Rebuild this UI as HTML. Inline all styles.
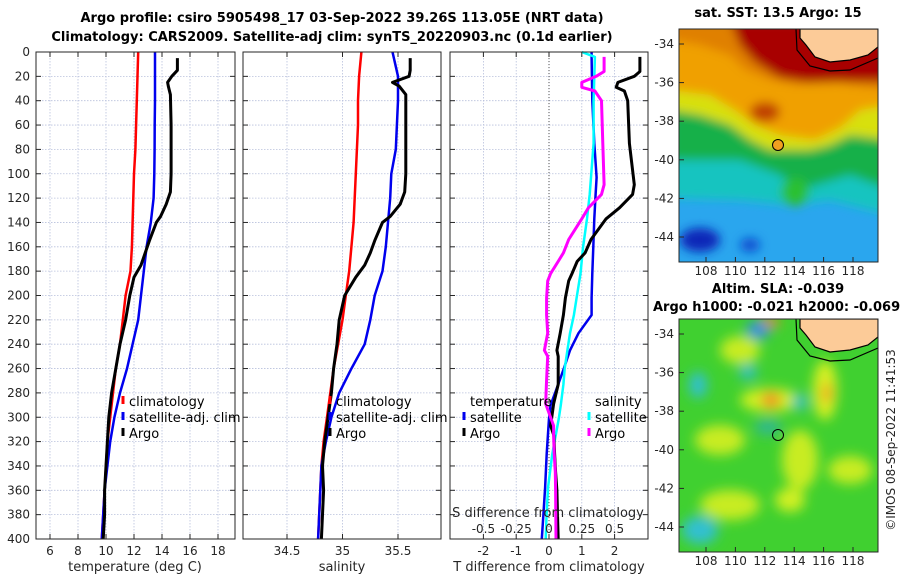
<!DOCTYPE html>
<html><head><meta charset="utf-8"><style>
body{margin:0;background:#fff;}
svg{display:block;font-family:"DejaVu Sans","Liberation Sans",sans-serif;}
.tk{font-size:12px;fill:#262626;}
.tt{font-size:13px;font-weight:bold;fill:#000;}
.lg{font-size:13px;fill:#000;}
</style></head><body>
<svg id="chart" width="900" height="580" viewBox="0 0 900 580">
<defs>
<filter id="blur1" x="-10%" y="-10%" width="120%" height="120%"><feGaussianBlur stdDeviation="5"/></filter>
<filter id="blur2" x="-10%" y="-10%" width="120%" height="120%"><feGaussianBlur stdDeviation="6"/></filter>
<clipPath id="cm1"><rect x="679" y="29" width="199" height="233"/></clipPath>
<clipPath id="cm2"><rect x="679" y="319" width="199" height="233"/></clipPath>
</defs>
<text class="tt" x="342" y="22" text-anchor="middle">Argo profile: csiro 5905498_17 03-Sep-2022 39.26S 113.05E (NRT data)</text>
<text class="tt" x="332" y="41" text-anchor="middle">Climatology: CARS2009. Satellite-adj clim: synTS_20220903.nc (0.1d earlier)</text>
<g id="grid"></g>
<g id="marks"></g>
<g id="frames"></g>

<g clip-path="url(#cm1)">
<rect x="679" y="29" width="199" height="233" fill="#2aa6ee"/>
<g filter="url(#blur1)">
<polygon points="670,20 890,20 890,215 830,200 790,205 740,200 670,198" fill="#14c4c0"/>
<polygon points="670,20 890,20 890,190 850,175 800,190 780,175 740,160 670,160" fill="#18b048"/>
<circle cx="795" cy="192" r="14" fill="#2cc030"/>
<polygon points="670,20 890,20 890,140 850,135 830,145 810,150 770,150 750,140 730,125 700,115 670,110" fill="#d8e010"/>
<polygon points="670,20 890,20 890,105 860,110 840,128 815,140 780,135 755,125 735,110 710,95 670,90" fill="#f0a000"/>
<polygon points="670,20 890,20 890,90 850,85 830,80 800,85 770,80 745,70 730,55 700,45 670,40" fill="#e08000"/>
<polygon points="730,20 890,20 890,82 840,82 810,83 780,78 755,62 740,45" fill="#a80000"/>
<ellipse cx="765" cy="112" rx="15" ry="10" fill="#c04000"/>
<ellipse cx="700" cy="240" rx="20" ry="12" fill="#0828b8"/>
<ellipse cx="750" cy="245" rx="10" ry="7" fill="#1050d0"/>
</g>
<polygon points="800,29 878,29 878,47 868,55 850,60 830,62 815,57 806,45 800,38" fill="#fccb98" stroke="#000" stroke-width="1.2"/>
<polyline points="796,29 797,50 810,66 830,71 850,70 878,58" fill="none" stroke="#000" stroke-width="1.2"/>
<circle cx="778" cy="145" r="5.5" fill="#f0a020" stroke="#000" stroke-width="1"/>
</g>
<rect x="679" y="29" width="199" height="233" fill="none" stroke="#262626"/>
<text class="tt" x="778" y="17" text-anchor="middle">sat. SST: 13.5 Argo: 15</text>

<g clip-path="url(#cm2)">
<rect x="679" y="319" width="199" height="233" fill="#40d030"/>
<g filter="url(#blur2)">
<ellipse cx="740" cy="350" rx="20" ry="14" fill="#c8ec20"/>
<ellipse cx="770" cy="400" rx="30" ry="12" fill="#d0f020"/>
<ellipse cx="720" cy="440" rx="25" ry="15" fill="#c8ec20"/>
<ellipse cx="800" cy="460" rx="18" ry="30" fill="#c8ec20"/>
<ellipse cx="825" cy="390" rx="12" ry="30" fill="#d8f020"/>
<ellipse cx="730" cy="505" rx="30" ry="15" fill="#c8ec20"/>
<ellipse cx="850" cy="470" rx="22" ry="14" fill="#c8ec20"/>
<ellipse cx="790" cy="500" rx="15" ry="12" fill="#d0f020"/>
<ellipse cx="771" cy="400" rx="10" ry="8" fill="#f09020"/>
<ellipse cx="827" cy="393" rx="5" ry="10" fill="#f0a020"/>
<ellipse cx="770" cy="322" rx="10" ry="5" fill="#f08020"/>
<ellipse cx="698" cy="385" rx="9" ry="13" fill="#30c0d0"/>
<ellipse cx="748" cy="372" rx="9" ry="8" fill="#30c0c0"/>
<ellipse cx="800" cy="402" rx="8" ry="8" fill="#30c0c0"/>
<ellipse cx="758" cy="330" rx="12" ry="9" fill="#3090e0"/>
<ellipse cx="700" cy="530" rx="18" ry="14" fill="#30c0d0"/>
<ellipse cx="768" cy="427" rx="14" ry="8" fill="#30b890"/>
</g>
<polygon points="800,319 878,319 878,337 868,345 850,350 830,352 815,347 806,335 800,328" fill="#fccb98" stroke="#000" stroke-width="1.2"/>
<polyline points="796,319 797,340 810,356 830,361 850,360 878,348" fill="none" stroke="#000" stroke-width="1.2"/>
<circle cx="778" cy="435" r="5.5" fill="none" stroke="#000" stroke-width="1"/>
</g>
<rect x="679" y="319" width="199" height="233" fill="none" stroke="#262626"/>
<text class="tt" x="778" y="293" text-anchor="middle">Altim. SLA: -0.039</text>
<text class="tt" x="653" y="311">Argo h1000: -0.021 h2000: -0.069</text>
<text class="tk" transform="translate(895,440) rotate(-90)" text-anchor="middle">©IMOS 08-Sep-2022 11:41:53</text>
<g id="maps"></g>
</svg>
<script>
const depthTicks=[0,20,40,60,80,100,120,140,160,180,200,220,240,260,280,300,320,340,360,380,400];
const tempTicks=[6,8,10,12,14,16,18];
const salTicks=[34.5,35,35.5];
const dTTicks=[-2,-1,0,1,2];
const dSTickLabels=["-0.5","-0.25","0","0.25","0.5"];
const dSTickValues=[-0.5,-0.25,0,0.25,0.5];
const latTicks=[-34,-36,-38,-40,-42,-44];
const lonTicks=[108,110,112,114,116,118];

const climDepth=[0,20,40,60,80,100,120,140,160,180,200,220,240,260,280,300,320,340,360,380,400];
const climTemp=[12.3,12.25,12.2,12.15,12.1,12.0,11.95,11.9,11.85,11.75,11.4,11.2,11.0,10.7,10.5,10.3,10.1,10.0,9.9,9.8,9.7];
const satTemp=[13.5,13.5,13.5,13.48,13.47,13.45,13.4,13.2,12.9,12.7,12.5,12.3,11.9,11.5,11.0,10.6,10.3,10.1,9.9,9.8,9.7];
const climSal=[35.17,35.15,35.14,35.14,35.13,35.12,35.11,35.1,35.08,35.06,35.03,35.0,34.96,34.92,34.89,34.86,34.83,34.81,34.80,34.79,34.78];
const satSal=[35.45,35.5,35.5,35.49,35.48,35.44,35.43,35.41,35.39,35.36,35.29,35.25,35.2,35.08,34.97,34.9,34.85,34.81,34.8,34.79,34.78];

const argoDepth=[5,15,20,25,28,35,60,100,115,125,135,140,155,165,175,185,200,220,240,260,280,300,320,340,360,380,400];
const argoTemp=[15.1,15.1,14.7,14.4,14.45,14.6,14.65,14.65,14.6,14.3,13.9,13.6,13.1,12.8,12.5,12.0,11.7,11.4,11.0,10.7,10.4,10.2,10.1,10.0,9.9,9.9,9.8];
const argoSal=[35.61,35.61,35.6,35.45,35.51,35.57,35.57,35.57,35.56,35.52,35.43,35.36,35.29,35.25,35.2,35.12,35.02,34.97,34.95,34.92,34.9,34.87,34.84,34.82,34.83,34.82,34.81];

const dDepth=[0,4,40,75,103,117,137,160,182,202,216,231,245,260,273,290,301,330,358,380,400];
const satDT=[1.3,1.3,1.32,1.38,1.45,1.42,1.38,1.35,1.32,1.3,1.3,0.9,0.64,0.45,0.28,0.05,0.0,-0.07,-0.12,-0.17,-0.22];
const satDS=[0.25,0.35,0.34,0.34,0.32,0.31,0.29,0.26,0.24,0.21,0.19,0.16,0.14,0.12,0.11,0.09,0.075,0.025,-0.008,-0.018,-0.025];

const argoDDepth=[4,16,20,25,29,32,40,75,109,117,128,137,154,165,172,182,188,202,216,231,245,250,262,273,289,307,315,330,345,360,380,400];
const argoDT=[2.77,2.77,2.6,2.1,2.05,2.3,2.4,2.45,2.6,2.55,2.15,1.74,1.28,1.1,0.86,0.7,0.6,0.5,0.44,0.34,0.24,0.28,0.28,0.28,0.14,0.05,0.15,0.17,0.2,0.24,0.26,0.28];
const argoDS=[0.42,0.42,0.36,0.25,0.25,0.35,0.4,0.41,0.42,0.4,0.3,0.25,0.15,0.11,0.07,0.012,-0.01,-0.018,-0.018,-0.01,-0.035,-0.01,-0.015,-0.02,-0.025,0.035,0.035,0.04,0.048,0.05,0.052,0.053];

const Y0=52,Y1=539;
const yD=d=>Y0+d*(Y1-Y0)/400;
const P1={x0:36,x1:235}, P2={x0:243,x1:441}, P3={x0:450,x1:648};
const xT=t=>50+14*(t-6);
const xS=s=>287+111*(s-34.5);
const xDT=t=>549+32.8*t;
const xDS=s=>549+131.2*s;
const xLon=l=>706+(l-108)*14.7;
const yLat1=l=>44+(-34-l)*19.3;
const yLat2=l=>334+(-34-l)*19.3;

const NS="http://www.w3.org/2000/svg";
function mk(tag,parent,attrs){const e=document.createElementNS(NS,tag);for(const k in attrs)e.setAttribute(k,attrs[k]);parent.appendChild(e);return e;}
const grid=document.getElementById('grid'),marks=document.getElementById('marks'),frames=document.getElementById('frames'),maps=document.getElementById('maps');

[P1,P2,P3].forEach((p,i)=>{
  depthTicks.forEach(d=>{
    const l=mk('line',grid,{x1:p.x0,x2:p.x1,y1:yD(d),y2:yD(d),stroke:'#b8c0dc','stroke-width':0.8,'stroke-dasharray':'1.5,1.5'});
    
    
    [[p.x0,p.x0+5],[p.x1-5,p.x1]].forEach(([a,b])=>mk('line',frames,{x1:a,x2:b,y1:yD(d),y2:yD(d),stroke:'#262626','stroke-width':1}));
  });
  const r=mk('rect',frames,{x:p.x0,y:Y0,width:p.x1-p.x0,height:Y1-Y0,fill:'none',stroke:'#262626','stroke-width':1});
  
  
});
function vgrid(vals,fx){
  vals.forEach(v=>{
    const x=fx(v);
    const l=mk('line',grid,{x1:x,x2:x,y1:Y0,y2:Y1,stroke:'#b8c0dc','stroke-width':0.8,'stroke-dasharray':'1.5,1.5'});
    
    
    mk('line',frames,{x1:x,x2:x,y1:Y1,y2:Y1-5,stroke:'#262626'});
    mk('line',frames,{x1:x,x2:x,y1:Y0,y2:Y0+5,stroke:'#262626'});
    const t=mk('text',frames,{x:x,y:555,class:'tk','text-anchor':'middle'});t.textContent=v;
    
    
  });
}
vgrid(tempTicks,xT);vgrid(salTicks,xS);vgrid(dTTicks,xDT);
mk('line',grid,{x1:xDT(0),x2:xDT(0),y1:Y0,y2:Y1,stroke:'#555','stroke-width':1,'stroke-dasharray':'1,2'});
depthTicks.forEach(d=>{const t=mk('text',frames,{x:30,y:yD(d)+4,class:'tk','text-anchor':'end'});t.textContent=d;
  
  });
dSTickValues.forEach((v,i)=>{const t=mk('text',frames,{x:xDS(v),y:533,class:'tk','text-anchor':'middle'});t.textContent=dSTickLabels[i];
  
  });
[[135,'temperature (deg C)','x-axis-title-temperature'],[342,'salinity','x-axis-title-salinity'],[549,'T difference from climatology','x-axis-title-t-diff'],[548,'S difference from climatology','s-diff-axis-title']].forEach(([x,s,n],i)=>{
  const t=mk('text',frames,{x:x,y:i==3?517:571,class:'tk','text-anchor':'middle',style:'font-size:13px'});t.textContent=s;
  
  
});

function line(xs,ds,fx,col,w,name){
  const pts=xs.map((v,i)=>fx(v).toFixed(1)+','+yD(ds[i]).toFixed(1)).join(' ');
  const p=mk('polyline',marks,{points:pts,fill:'none',stroke:col,'stroke-width':w,'stroke-linejoin':'round'});
  
  
}
line(climTemp,climDepth,xT,'#ff0000',2.5,'climatology-temperature-line');
line(satTemp,climDepth,xT,'#0000ee',2.5,'satellite-temperature-line');
line(argoTemp,argoDepth,xT,'#000',3,'argo-temperature-line');
line(climSal,climDepth,xS,'#ff0000',2.5,'climatology-salinity-line');
line(satSal,climDepth,xS,'#0000ee',2.5,'satellite-salinity-line');
line(argoSal,argoDepth,xS,'#000',3,'argo-salinity-line');
line(satDT,dDepth,xDT,'#0000ee',2.5,'satellite-t-diff-line');
line(satDS,dDepth,xDS,'#00ffff',2.5,'satellite-s-diff-line');
line(argoDT,argoDDepth,xDT,'#000',3,'argo-t-diff-line');
line(argoDS,argoDDepth,xDS,'#ff00ff',3,'argo-s-diff-line');

function leg(x,y,col,txt,name){
  if(col){mk('line',frames,{x1:x-6,x2:x-6,y1:y-10,y2:y-2,stroke:col,'stroke-width':3});}
  const t=mk('text',frames,{x:x,y:y,class:'lg'});t.textContent=txt;
  
  
}
leg(129,406,'#ff0000','climatology','legend-entry-climatology');
leg(129,422,'#0000ee','satellite-adj. clim','legend-entry-satellite-adj');
leg(129,438,'#000','Argo','legend-entry-argo');
leg(336,406,'#ff0000','climatology','legend-entry-climatology-2');
leg(336,422,'#0000ee','satellite-adj. clim','legend-entry-satellite-adj-2');
leg(336,438,'#000','Argo','legend-entry-argo-2');
leg(470,406,null,'temperature','legend-header-temperature');
leg(470,422,'#0000ee','satellite','legend-entry-t-satellite');
leg(470,438,'#000','Argo','legend-entry-t-argo');
leg(595,406,null,'salinity','legend-header-salinity');
leg(595,422,'#00ffff','satellite','legend-entry-s-satellite');
leg(595,438,'#ff00ff','Argo','legend-entry-s-argo');

[[yLat1,262,275],[yLat2,552,565]].forEach(([fy,yb,ylab])=>{
  latTicks.forEach(l=>{const y=fy(l);mk('line',maps,{x1:679,x2:684,y1:y,y2:y,stroke:'#262626'});
    const t=mk('text',maps,{x:674,y:y+4,class:'tk','text-anchor':'end'});t.textContent=l;
    
    });
  lonTicks.forEach(l=>{const x=xLon(l);mk('line',maps,{x1:x,x2:x,y1:yb,y2:yb-5,stroke:'#262626'});
    const t=mk('text',maps,{x:x,y:ylab,class:'tk','text-anchor':'middle'});t.textContent=l;
    
    });
});
</script>
</body></html>
